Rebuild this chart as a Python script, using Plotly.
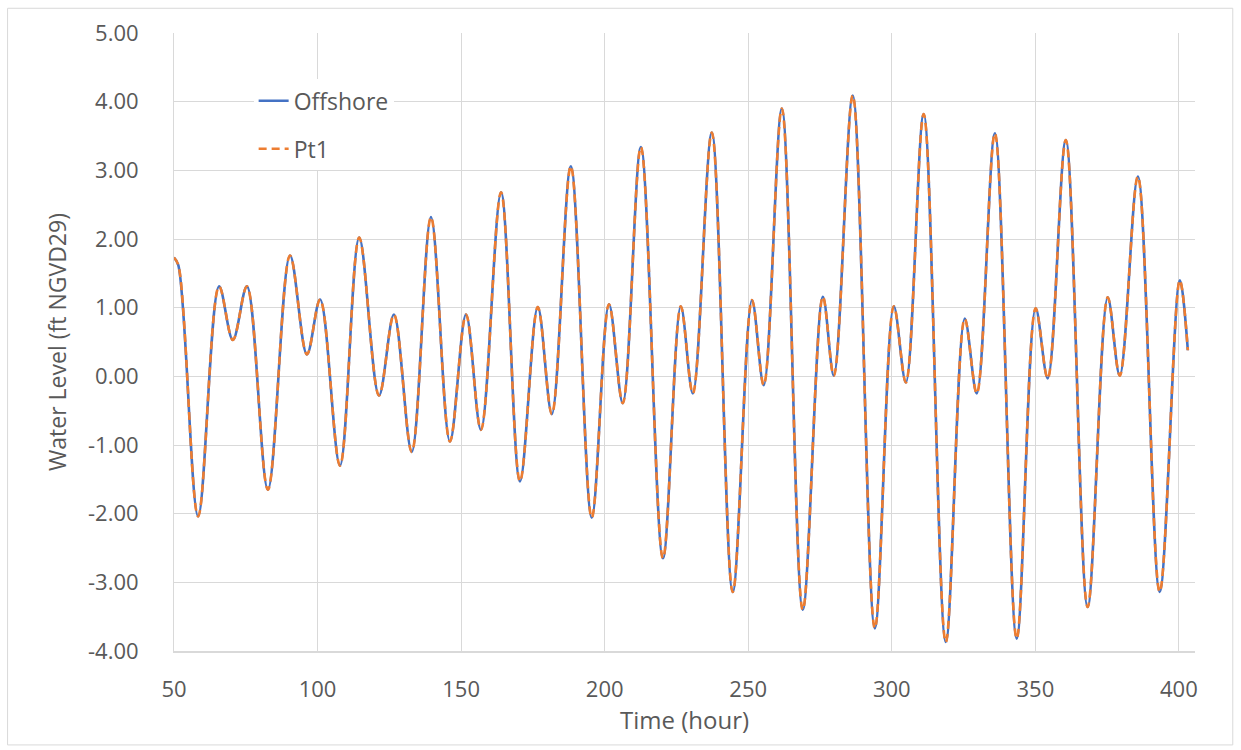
import plotly.graph_objects as go

# Time (hour) of each turning point
hours = [50, 51.5, 58.4, 65.7, 70.5, 75.4, 82.7, 90.4, 96.3, 100.9, 107.8,
         114.5, 121.4, 126.6, 132.8, 139.5, 146.1, 151.7, 156.9, 163.9, 170.5,
         176.7, 181.6, 188.2, 195.5, 201.5, 206.3, 212.6, 220.3, 226.5, 230.7,
         237.3, 244.6, 251.3, 255.4, 261.7, 269.0, 276.0, 279.8, 286.4, 294.1,
         300.7, 304.9, 311.1, 318.8, 325.4, 329.6, 335.9, 343.5, 350.1, 354.3,
         360.6, 368.2, 375.2, 379.4, 385.7, 393.3, 400.3, 403.1]

offshore = [1.73, 1.62, -2.04, 1.31, 0.53, 1.31, -1.65, 1.76, 0.32, 1.12, -1.30,
            2.02, -0.28, 0.90, -1.10, 2.32, -0.95, 0.90, -0.78, 2.68, -1.53,
            1.01, -0.55, 3.06, -2.06, 1.05, -0.39, 3.34, -2.65, 1.02, -0.25,
            3.55, -3.14, 1.11, -0.13, 3.90, -3.40, 1.16, 0.01, 4.09, -3.67,
            1.02, -0.09, 3.82, -3.87, 0.84, -0.25, 3.54, -3.82, 0.99, -0.03,
            3.44, -3.36, 1.15, 0.01, 2.91, -3.14, 1.40, 0.38]

pt1 = [1.73, 1.62, -2.04, 1.31, 0.53, 1.31, -1.65, 1.76, 0.32, 1.12, -1.30,
       2.02, -0.28, 0.90, -1.10, 2.32, -0.95, 0.90, -0.78, 2.68, -1.53,
       1.01, -0.55, 3.06, -2.06, 1.05, -0.39, 3.34, -2.65, 1.02, -0.25,
       3.55, -3.14, 1.11, -0.13, 3.90, -3.40, 1.16, 0.01, 4.09, -3.67,
       1.02, -0.09, 3.82, -3.87, 0.84, -0.25, 3.54, -3.82, 0.99, -0.03,
       3.44, -3.36, 1.15, 0.01, 2.91, -3.14, 1.40, 0.38]

y_ticks = [5, 4, 3, 2, 1, 0, -1, -2, -3, -4]
y_tick_labels = ["5.00", "4.00", "3.00", "2.00", "1.00", "0.00", "-1.00", "-2.00", "-3.00", "-4.00"]
x_ticks = [50, 100, 150, 200, 250, 300, 350, 400]

BLUE = "#4472C4"
ORANGE = "#ED7D31"
TXT = "#595959"
GRID = "#D9D9D9"

fig = go.Figure()
fig.add_trace(go.Scatter(
    x=hours, y=offshore, name="Offshore", mode="lines",
    line=dict(color=BLUE, width=2.6, shape="spline", smoothing=1.0),
    legendgroup="a",
))
fig.add_trace(go.Scatter(
    x=hours, y=pt1, name="Pt1", mode="lines",
    line=dict(color=ORANGE, width=2.6, dash="8px,5px", shape="spline", smoothing=1.0),
    legendgroup="b",
))

fig.update_layout(
    width=1241, height=750,
    margin=dict(l=174, r=46, t=33, b=99),
    paper_bgcolor="white", plot_bgcolor="white",
    font=dict(family="Open Sans, Arial, sans-serif", color=TXT, size=20),
    showlegend=True,
    legend=dict(
        x=0.078, y=0.925, xanchor="left", yanchor="top",
        bgcolor="white", borderwidth=0,
        font=dict(size=23, color=TXT),
        tracegroupgap=15, traceorder="grouped",
    ),
    xaxis=dict(
        range=[50, 405.6], tickmode="array", tickvals=x_ticks,
        showgrid=True, gridcolor=GRID, gridwidth=1,
        showline=True, linecolor=GRID, linewidth=1.5,
        zeroline=False, ticks="", ticklabelstandoff=18,
        tickfont=dict(size=22, color=TXT),
        title=dict(text="Time (hour)", font=dict(size=24, color=TXT), standoff=8),
    ),
    yaxis=dict(
        range=[-4, 5], tickmode="array", tickvals=y_ticks, ticktext=y_tick_labels,
        showgrid=True, gridcolor=GRID, gridwidth=1,
        showline=True, linecolor=GRID, linewidth=1,
        zeroline=False, ticks="", ticklabelstandoff=30,
        tickfont=dict(size=22, color=TXT),
        title=dict(text="Water Level (ft NGVD29)", font=dict(size=23, color=TXT), standoff=14),
    ),
)

# outer chart border
fig.add_shape(type="rect", xref="paper", yref="paper",
              x0=-0.163, x1=1.037, y0=-0.152, y1=1.04,
              line=dict(color=GRID, width=1), fillcolor="rgba(0,0,0,0)", layer="below")

fig.write_html("out.html")
